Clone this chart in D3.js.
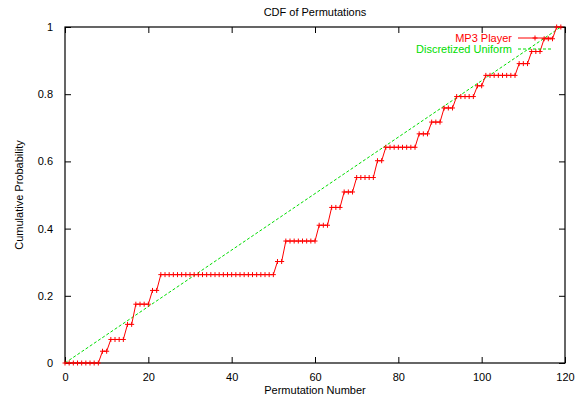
<!DOCTYPE html>
<html>
<head>
<meta charset="utf-8">
<script src="https://cdn.jsdelivr.net/npm/d3@7"></script>
<style>
  html, body { margin: 0; padding: 0; background: #fff; }
  svg { display: block; font-family: "Liberation Sans", Arial, sans-serif; }
</style>
</head>
<body>
<svg id="chart" width="581" height="401"></svg>
<script>
// ---- data ----
const title = "CDF of Permutations";
const xLabel = "Permutation Number";
const yLabel = "Cumulative Probability";
const xTicks = [0, 20, 40, 60, 80, 100, 120];
const yTicks = [0, 0.2, 0.4, 0.6, 0.8, 1];
const yTickLabels = ["0", "0.2", "0.4", "0.6", "0.8", "1"];
const seriesNames = ["MP3 Player", "Discretized Uniform"];

// MP3 Player empirical CDF, one value per permutation number 0..119
const mp3Values = [
  0, 0, 0, 0, 0, 0, 0, 0, 0,                  // 0-8
  0.035, 0.035,                               // 9-10
  0.07, 0.07, 0.07, 0.07,                     // 11-14
  0.115, 0.115,                               // 15-16
  0.175, 0.175, 0.175, 0.175,                 // 17-20
  0.216, 0.216,                               // 21-22
  0.263, 0.263, 0.263, 0.263, 0.263, 0.263, 0.263, 0.263, 0.263, 0.263,
  0.263, 0.263, 0.263, 0.263, 0.263, 0.263, 0.263, 0.263, 0.263, 0.263,
  0.263, 0.263, 0.263, 0.263, 0.263, 0.263, 0.263, 0.263,   // 23-50
  0.302, 0.302,                               // 51-52
  0.363, 0.363, 0.363, 0.363, 0.363, 0.363, 0.363, 0.363,   // 53-60
  0.41, 0.41, 0.41,                           // 61-63
  0.463, 0.463, 0.463,                        // 64-66
  0.509, 0.509, 0.509,                        // 67-69
  0.552, 0.552, 0.552, 0.552, 0.552,          // 70-74
  0.602, 0.602,                               // 75-76
  0.642, 0.642, 0.642, 0.642, 0.642, 0.642, 0.642, 0.642,   // 77-84
  0.682, 0.682, 0.682,                        // 85-87
  0.717, 0.717, 0.717,                        // 88-90
  0.759, 0.759, 0.759,                        // 91-93
  0.793, 0.793, 0.793, 0.793, 0.793,          // 94-98
  0.825, 0.825,                               // 99-100
  0.856, 0.856, 0.856, 0.856, 0.856, 0.856, 0.856, 0.856,   // 101-108
  0.891, 0.891, 0.891,                        // 109-111
  0.927, 0.927, 0.927,                        // 112-114
  0.965, 0.965, 0.965,                        // 115-117
  1, 1                                        // 118-119
];

// Discretized uniform CDF: straight line between its end points
const uniformX = [0, 119];
const uniformY = [0, 1];

// ---- layout ----
const svg = d3.select("#chart");
const W = 581, H = 401;
const margin = { left: 65, right: 16, top: 27, bottom: 38 };
const x0 = margin.left, x1 = W - margin.right;
const y0 = H - margin.bottom, y1 = margin.top;

const x = d3.scaleLinear().domain([0, 120]).range([x0, x1]);
const y = d3.scaleLinear().domain([0, 1]).range([y0, y1]);

const RED = "#ff0000";
const GREEN = "#00dd00";
const FONT = 11;
const tickLen = 6;

// title
svg.append("text").attr("x", (x0 + x1) / 2).attr("y", 16)
  .attr("text-anchor", "middle").attr("font-size", FONT).attr("fill", "#000")
  .text(title);

// axes with inward ticks (bottom/top, left/right mirrored)
const gx = svg.append("g").attr("transform", `translate(0,${y0})`)
  .call(d3.axisBottom(x).tickValues(xTicks).tickSize(-tickLen).tickPadding(10).tickFormat(d3.format("d")));
const gxTop = svg.append("g").attr("transform", `translate(0,${y1})`)
  .call(d3.axisTop(x).tickValues(xTicks).tickSize(-tickLen).tickFormat(""));
const gy = svg.append("g").attr("transform", `translate(${x0},0)`)
  .call(d3.axisLeft(y).tickValues(yTicks).tickSize(-tickLen).tickPadding(12)
    .tickFormat((d, i) => yTickLabels[i]));
const gyR = svg.append("g").attr("transform", `translate(${x1},0)`)
  .call(d3.axisRight(y).tickValues(yTicks).tickSize(-tickLen).tickFormat(""));

[gx, gxTop, gy, gyR].forEach(g => {
  g.select(".domain").remove();
  g.selectAll(".tick line").attr("stroke", "#000").attr("stroke-width", 1);
  g.selectAll("text").attr("font-size", FONT).attr("fill", "#000")
    .attr("font-family", '"Liberation Sans", Arial, sans-serif');
});
// remove tick marks at frame corners (they'd coincide with frame)
// frame
svg.append("rect").attr("x", x0).attr("y", y1)
  .attr("width", x1 - x0).attr("height", y0 - y1)
  .attr("fill", "none").attr("stroke", "#000").attr("stroke-width", 1.2);

// axis labels
svg.append("text").attr("x", (x0 + x1) / 2).attr("y", 394)
  .attr("text-anchor", "middle").attr("font-size", FONT).text(xLabel);
svg.append("text").attr("transform", `translate(23,${(y0 + y1) / 2}) rotate(-90)`)
  .attr("text-anchor", "middle").attr("font-size", FONT).text(yLabel);

// uniform dashed line
const uniformPts = uniformX.map((v, i) => [v, uniformY[i]]);
svg.append("path").datum(uniformPts)
  .attr("d", d3.line().x(d => x(d[0])).y(d => y(d[1])))
  .attr("fill", "none").attr("stroke", GREEN).attr("stroke-width", 1)
  .attr("stroke-dasharray", "3,2");

// MP3 player line + markers
const mp3Pts = mp3Values.map((v, i) => [i, v]);
svg.append("path").datum(mp3Pts)
  .attr("d", d3.line().x(d => x(d[0])).y(d => y(d[1])))
  .attr("fill", "none").attr("stroke", RED).attr("stroke-width", 1);
const ms = 2.5;
const plus = (px, py) => `M${px - ms},${py}H${px + ms}M${px},${py - ms}V${py + ms}`;
svg.append("path")
  .attr("d", mp3Pts.map(d => plus(x(d[0]), y(d[1]))).join(""))
  .attr("fill", "none").attr("stroke", RED).attr("stroke-width", 1);

// legend
const keyTextX = 512, keyS0 = 518, keyS1 = 552;
const keyY = [38, 49];
svg.append("text").attr("x", keyTextX).attr("y", keyY[0]).attr("dy", "0.35em")
  .attr("text-anchor", "end").attr("font-size", FONT).attr("fill", RED).text(seriesNames[0]);
svg.append("line").attr("x1", keyS0).attr("x2", keyS1).attr("y1", keyY[0]).attr("y2", keyY[0])
  .attr("stroke", RED).attr("stroke-width", 1);
svg.append("path").attr("d", plus((keyS0 + keyS1) / 2, keyY[0]))
  .attr("stroke", RED).attr("stroke-width", 1);
svg.append("text").attr("x", keyTextX).attr("y", keyY[1]).attr("dy", "0.35em")
  .attr("text-anchor", "end").attr("font-size", FONT).attr("fill", GREEN).text(seriesNames[1]);
svg.append("line").attr("x1", keyS0).attr("x2", keyS1).attr("y1", keyY[1]).attr("y2", keyY[1])
  .attr("stroke", GREEN).attr("stroke-width", 1).attr("stroke-dasharray", "3,2");
</script>
</body>
</html>
